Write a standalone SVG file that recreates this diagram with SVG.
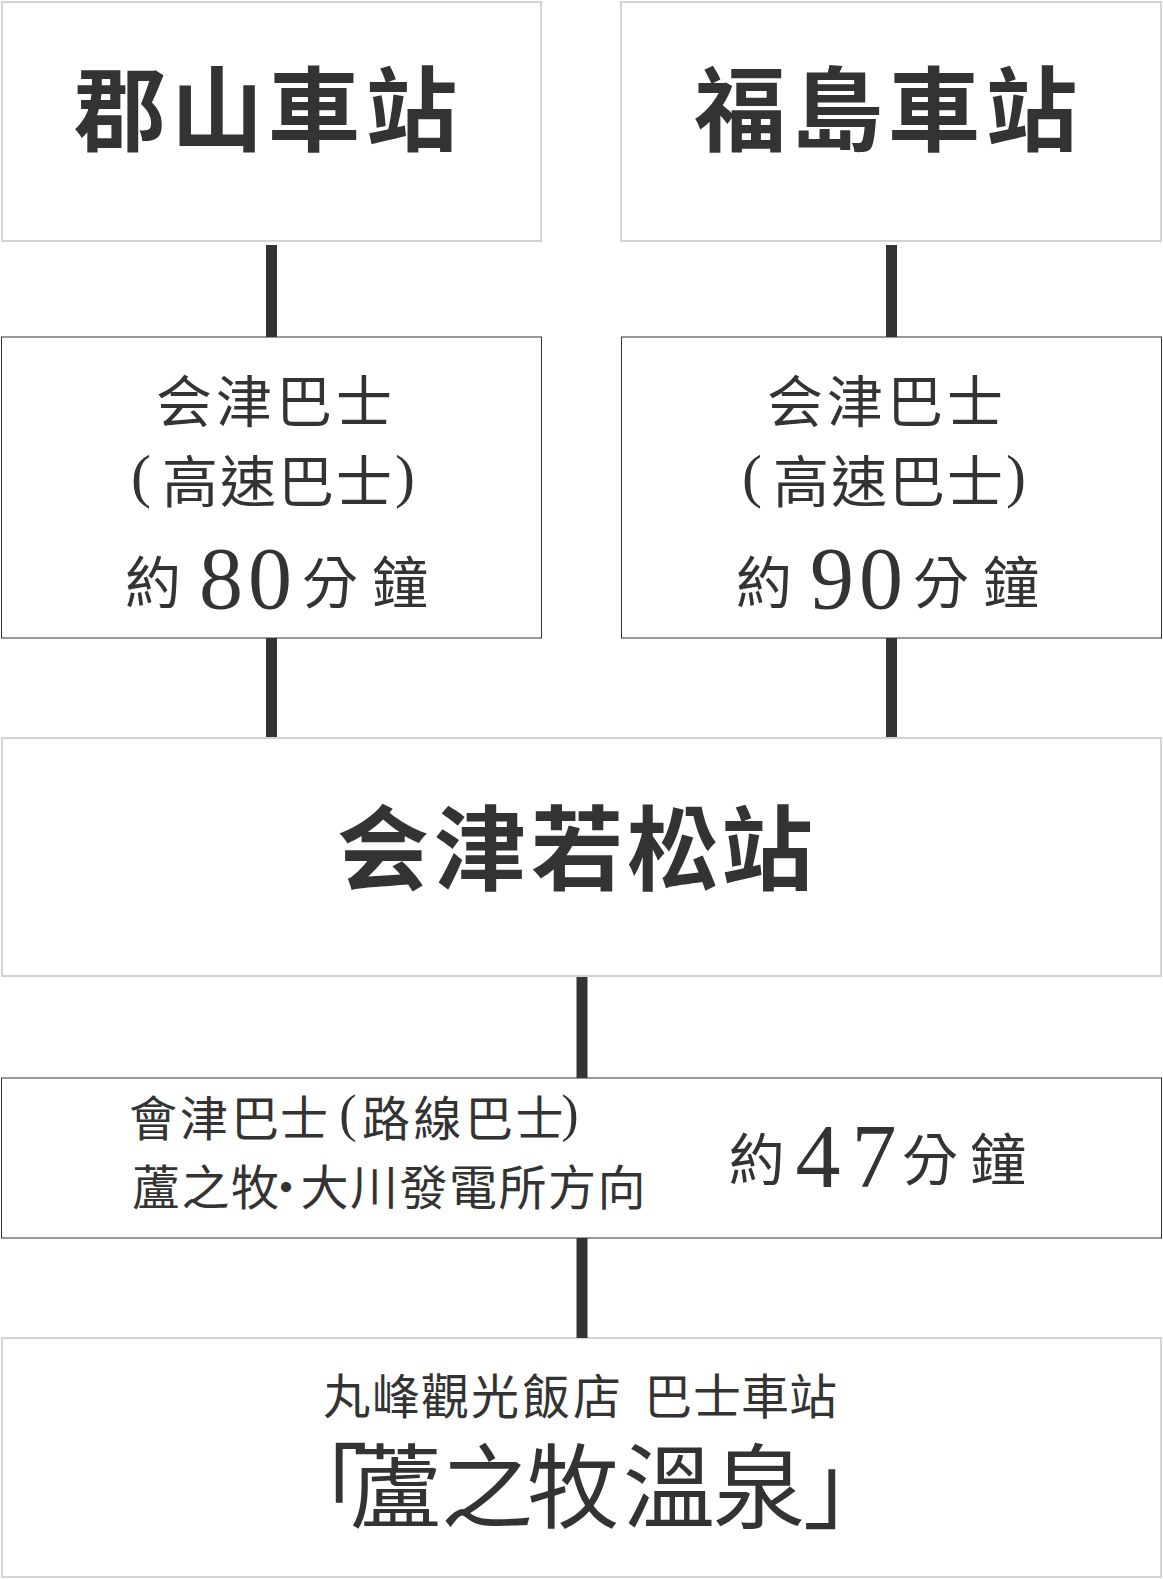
<svg xmlns="http://www.w3.org/2000/svg" width="1163" height="1579" viewBox="0 0 1163 1579">
<style>
.lt{fill:#fff;stroke:#d3d3d3;stroke-width:2}
.dk{fill:#fff;stroke:#333;stroke-width:1}
.t{font-family:'Noto Sans CJK TC','Noto Sans CJK JP',sans-serif;fill:#333;text-anchor:middle}
.b{font-weight:700}
.s{font-family:'Liberation Serif',serif}
.conn line{stroke:#333;stroke-width:11}
</style>
<rect width="1163" height="1579" fill="#fff"/>
<g id="koriyama">
<rect class="lt" x="2" y="2" width="539" height="239"/>
<text class="t b" font-size="92" x="120 217 314 411.5" y="144">郡山車站</text>
</g>
<g id="fukushima">
<rect class="lt" x="621" y="2" width="540" height="239"/>
<text class="t b" font-size="92" x="740 837 934 1031.5" y="144">福島車站</text>
</g>
<g id="bus-koriyama">
<rect class="dk" x="1.5" y="337" width="540" height="301"/>
<text class="t" font-size="56" x="184 244 304 364" y="422">会津巴士</text>
<text class="t" font-size="56" y="502"><tspan class="s" font-size="60" x="141" y="496">(</tspan><tspan x="190 248 306 364" y="502">高速巴士</tspan><tspan class="s" font-size="60" x="405" y="496">)</tspan></text>
<text class="t" font-size="56" y="603"><tspan x="153">約</tspan><tspan class="s" font-size="88" x="221 270" y="608">80</tspan><tspan x="330 400" y="603">分鐘</tspan></text>
</g>
<g id="bus-fukushima">
<rect class="dk" x="621.5" y="337" width="540" height="301"/>
<text class="t" font-size="56" x="795 855 915 975" y="422">会津巴士</text>
<text class="t" font-size="56" y="502"><tspan class="s" font-size="60" x="752" y="496">(</tspan><tspan x="801 859 917 975" y="502">高速巴士</tspan><tspan class="s" font-size="60" x="1016" y="496">)</tspan></text>
<text class="t" font-size="56" y="603"><tspan x="764">約</tspan><tspan class="s" font-size="88" x="832 881" y="608">90</tspan><tspan x="941 1011" y="603">分鐘</tspan></text>
</g>
<g id="aizuwakamatsu">
<rect class="lt" x="2" y="738" width="1159" height="238"/>
<text class="t b" font-size="92" x="383 480 577 673 767" y="883">会津若松站</text>
</g>
<g id="bus-local">
<rect class="dk" x="1.5" y="1078" width="1160" height="160"/>
<text class="t" font-size="48" y="1136"><tspan x="153 204 255 304">會津巴士</tspan><tspan x="327"> </tspan><tspan class="s" font-size="52" x="348" y="1131">(</tspan><tspan x="386 437.5 489 539.5" y="1136">路線巴士</tspan><tspan class="s" font-size="52" x="570" y="1131">)</tspan></text>
<text class="t" font-size="48" x="156 205.5 255 286 324.5 374 423.5 473 522.5 572 621.5" y="1205">蘆之牧·大川發電所方向</text>
<text class="t" font-size="56" y="1179.5"><tspan x="756.7">約</tspan><tspan class="s" font-size="90" x="818 874" y="1187">47</tspan><tspan x="930 998" y="1179.5">分鐘</tspan></text>
</g>
<g id="ashinomaki">
<rect class="lt" x="2" y="1338" width="1159" height="239"/>
<text class="t" font-size="48" x="347 396 445 495 546 597 632 668 717 765 813" y="1414">丸峰觀光飯店 巴士車站</text>
<text class="t" font-size="92" x="322 396 487 573 669 759 849" y="1521">「蘆之牧溫泉」</text>
</g>
<g id="connectors" class="conn">
<line x1="271.5" y1="245" x2="271.5" y2="337"/>
<line x1="891.5" y1="245" x2="891.5" y2="337"/>
<line x1="271.5" y1="638" x2="271.5" y2="737"/>
<line x1="891.5" y1="638" x2="891.5" y2="737"/>
<line x1="582" y1="977" x2="582" y2="1078"/>
<line x1="582" y1="1238" x2="582" y2="1338"/>
</g>
</svg>
